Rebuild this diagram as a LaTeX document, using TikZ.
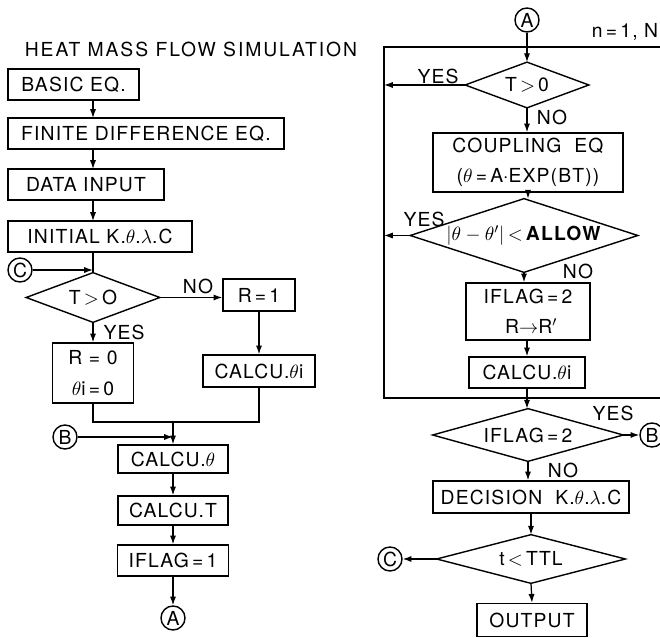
\documentclass[tikz,border=0pt]{standalone}
\usepackage{fontspec}
\setmainfont{TeX Gyre Heros}[LetterSpace=6]
\usetikzlibrary{arrows.meta,positioning}
\tikzset{
    procbox/.style  = {rectangle, draw, line width=0.8pt, inner sep=0pt,
                       align=center, font=\fontsize{11}{14}\selectfont},
    decision/.style = {rectangle, inner sep=0pt,
                       align=center, font=\fontsize{11}{14}\selectfont},
    decEdge/.style  = {line width=0.8pt, line join=miter},
    connect/.style  = {circle, draw, line width=0.8pt, inner sep=0pt,
                       minimum size=0.48cm, font=\fontsize{11}{13}\selectfont},
    flowArr/.style  = {-{Latex[length=5pt,width=3.5pt]}, line width=0.7pt},
    flowLine/.style = {line width=0.7pt},
    answer/.style   = {inner sep=1pt, font=\fontsize{11}{13}\selectfont}
}

\begin{document}
\begin{tikzpicture}[x=0.02cm, y=-0.02cm]

\useasboundingbox (0,0) rectangle (660,638);

% ===== Title =====
\node[font=\fontsize{11}{13}\addfontfeature{LetterSpace=10}] (title) at (191,49)
   {HEAT MASS FLOW SIMULATION};

% ===== Left column: set-up =====
\node[procbox, minimum width=2.62cm, minimum height=0.62cm] (basic) at (73.5,84.5)
   {BASIC EQ.};
\node[procbox, minimum width=5.52cm, minimum height=0.62cm] (fde) at (146,133.5)
   {FINITE DIFFERENCE EQ.};
\node[procbox, minimum width=3.12cm, minimum height=0.62cm] (input) at (86,184.5)
   {DATA INPUT};
\node[procbox, minimum width=3.68cm, minimum height=0.62cm] (init) at (100,236.5)
   {INITIAL K.$\theta$.$\lambda$.C};

\draw[flowArr] (93,100) -- (93,118);
\draw[flowArr] (93,149) -- (93,169);
\draw[flowArr] (93,200) -- (93,221);

% ===== Left column: T>0 branch =====
\node[decision, minimum width=2.66cm, minimum height=0.98cm] (tpos) at (93,297.5)
   {T\,$>$\,O};
\node[connect] (conC) at (20,270) {C};
\node[procbox, minimum width=1.44cm, minimum height=0.64cm] (rone) at (259,295)
   {R\,=\,1};
\node[procbox, minimum width=2.24cm, minimum height=0.64cm] (calci) at (259,371)
   {CALCU.$\theta$i};
\node[procbox, minimum width=1.62cm, minimum height=1.2cm] (rzero) at (93,373)
   {R = 0\\[4pt] $\theta$i\,=\,0};

\draw[flowLine] (init.south -| tpos.north) -- (tpos.north);
\draw[flowArr] (conC.east) -- (conC.east -| tpos.north);
\draw[flowArr] (tpos.east) -- (tpos.east -| rone.west);
\node[answer] (noA) at (198,286) {NO};
\draw[flowArr] (tpos.south) -- (rzero.north);
\node[answer] (yesA) at (124,332) {YES};
\draw[flowArr] (rone.south) -- (calci.north);

% ===== Left column: merge and time step =====
\coordinate (merge) at (173,422);
\node[connect] (conB) at (65,437) {B};
\node[procbox, minimum width=2.2cm, minimum height=0.56cm] (calth) at (173,459)
   {CALCU.$\theta$};
\node[procbox, minimum width=2.2cm, minimum height=0.58cm] (calT) at (173,510.5)
   {CALCU.T};
\node[procbox, minimum width=2.22cm, minimum height=0.62cm] (flag1) at (173,560.5)
   {IFLAG\,=\,1};
\node[connect] (conA) at (173,618) {A};

\draw[flowLine] (rzero.south) -- (rzero.south |- merge) -- (calci.south |- merge)
   -- (calci.south);
\draw[flowArr] (merge) -- (calth.north);
\draw[flowArr] (conB.east) -- (conB.east -| merge);
\draw[flowArr] (calth.south) -- (calT.north);
\draw[flowArr] (calT.south) -- (flag1.north);
\draw[flowArr] (flag1.south) -- (conA.north);

% ===== Right column: iteration loop =====
\coordinate (loopTL) at (384,47);
\coordinate (loopTR) at (662,47);
\coordinate (loopBL) at (384,398);
\coordinate (loopBR) at (662,398);
\draw[flowLine] (loopTR) -- (loopTL) -- (loopBL) -- (loopBR);
\node[answer, anchor=south] (count) at (625,42) {n\,=\,1, N};

\node[connect] (conA2) at (527,20) {A};
\node[decision, minimum width=2.46cm, minimum height=0.9cm] (tpos2) at (527,85)
   {T\,$>$\,0};
\node[procbox, minimum width=3.8cm, minimum height=1.18cm] (couple) at (528,162.5)
   {COUPLING\ \ EQ\\[3pt] ($\theta$\,=\,A$\cdot$EXP(BT))};
\node[decision, minimum width=4.54cm, minimum height=1.46cm] (allow) at (524,235.5)
   {$|\theta-\theta'|$\,$<$\,\textbf{ALLOW}};
\node[procbox, minimum width=2.48cm, minimum height=1.14cm] (flag2) at (528,311.5)
   {IFLAG\,=\,2\\[3pt] \ R$\rightarrow$R$'$};
\node[procbox, minimum width=2.32cm, minimum height=0.62cm] (calci2) at (527,372.5)
   {CALCU.$\theta$i};

\draw[flowArr] (conA2.south) -- (tpos2.north);
\draw[flowArr] (tpos2.west) -- (tpos2.west -| loopTL);
\node[answer] (yesB) at (438,76) {YES};
\draw[flowArr] (tpos2.south) -- (tpos2.south |- couple.north);
\node[answer] (noB) at (552,117) {NO};
\draw[flowArr] (couple.south) -- (couple.south |- allow.north);
\draw[flowArr] (allow.west) -- (allow.west -| loopTL);
\node[answer] (yesC) at (424,219) {YES};
\draw[flowArr] (allow.south) -- (allow.south |- flag2.north);
\node[answer] (noC) at (578,271) {NO};
\draw[flowArr] (flag2.south -| calci2.north) -- (calci2.north);

% ===== Right column: after the loop =====
\node[decision, minimum width=3.8cm, minimum height=1.04cm] (flag2q) at (528,435)
   {IFLAG\,=\,2};
\node[connect] (conB2) at (652,435) {B};
\node[procbox, minimum width=3.92cm, minimum height=0.64cm] (decide) at (531,497)
   {DECISION\ \ K.$\theta$.$\lambda$.C};
\node[decision, minimum width=3.76cm, minimum height=0.96cm] (ttl) at (531,559)
   {t\,$<$\,TTL};
\node[connect] (conC2) at (390,559) {C};
\node[procbox, minimum width=2.2cm, minimum height=0.66cm] (output) at (532,620)
   {OUTPUT};

\draw[flowArr] (calci2.south) -- (calci2.south |- flag2q.north);
\draw[flowArr] (flag2q.east) -- (conB2.west);
\node[answer] (yesD) at (613,413) {YES};
\draw[flowArr] (flag2q.south) -- (flag2q.south |- decide.north);
\node[answer] (noD) at (563,470) {NO};
\draw[flowArr] (decide.south -| ttl.north) -- (ttl.north);
\draw[flowArr] (ttl.west) -- (conC2.east);
\draw[flowArr] (ttl.south) -- (output.north);

% diamond outlines of the decision nodes
\foreach \dec in {tpos, tpos2, allow, flag2q, ttl}
   \draw[decEdge] (\dec.north) -- (\dec.east) -- (\dec.south) -- (\dec.west) -- cycle;

\end{tikzpicture}
\end{document}
